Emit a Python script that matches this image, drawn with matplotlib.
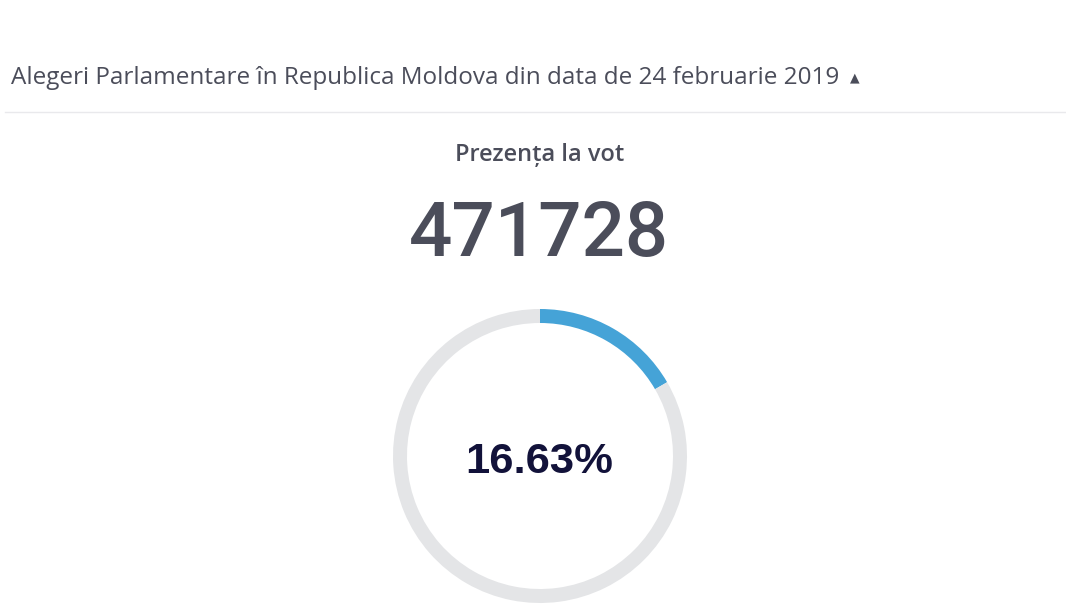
import matplotlib
matplotlib.use("Agg")
import matplotlib.pyplot as plt

title = "Alegeri Parlamentare în Republica Moldova din data de 24 februarie 2019"
subtitle = "Prezența la vot"
votes = 471728
turnout_pct = 16.63

W, H = 1066, 616
fig = plt.figure(figsize=(W / 100, H / 100), dpi=100)
fig.patch.set_facecolor("white")

def fx(px):
    return px / W

def fy(py):
    return 1 - py / H

txt = "#4b4d5a"
fig.text(fx(11), fy(84), title, fontsize=17.5, family="Open Sans", color=txt,
         ha="left", va="baseline")
fig.text(fx(855), fy(78), "▲", fontsize=9, family="DejaVu Sans", color=txt,
         ha="center", va="center")
fig.add_artist(plt.Line2D([fx(5), fx(1066)], [fy(112), fy(112)], color="#e9e9ec", lw=1))
fig.text(fx(540), fy(161), subtitle, fontsize=17, family="Open Sans", fontweight="semibold",
         color=txt, ha="center", va="baseline")
fig.text(fx(539), fy(256), str(votes), fontsize=55, family="Roboto", fontweight="medium",
         color=txt, ha="center", va="baseline")

cx, cy, r = 540, 456, 147
ax = fig.add_axes([fx(cx - r), fy(cy + r), 2 * r / W, 2 * r / H])
ax.pie([turnout_pct, 100 - turnout_pct], colors=["#45a3d7", "#e4e5e7"], startangle=90,
       counterclock=False, radius=1, wedgeprops=dict(width=14 / r, linewidth=0))
ax.set_xlim(-1, 1)
ax.set_ylim(-1, 1)
ax.set_aspect("equal")
ax.axis("off")
fig.text(fx(539), fy(473), f"{turnout_pct:.2f}%", fontsize=31.3, family="Liberation Sans",
         fontweight="bold", color="#12123a", ha="center", va="baseline")

fig.savefig("out.png", dpi=100, facecolor="white")
